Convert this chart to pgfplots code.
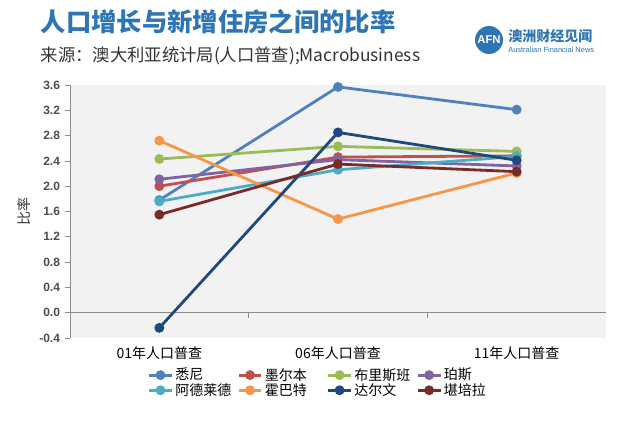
\documentclass[border=0pt]{standalone}
\usepackage{pgfplots}
\pgfplotsset{compat=1.18}
\usepackage{fontspec}
\setmainfont{Noto Sans CJK SC}
\newfontfamily\latin{Liberation Sans}

\definecolor{sydney}{HTML}{4F81BD}
\definecolor{melb}{HTML}{C0504D}
\definecolor{bris}{HTML}{9BBB59}
\definecolor{perth}{HTML}{8064A2}
\definecolor{adel}{HTML}{4BACC6}
\definecolor{hob}{HTML}{F79646}
\definecolor{darw}{HTML}{1F497D}
\definecolor{canb}{HTML}{772C2A}
\definecolor{titleblue}{HTML}{2E75B6}
\definecolor{bggray}{HTML}{F2F2F2}
\definecolor{axgray}{HTML}{8C8C8C}

\begin{document}
\begin{tikzpicture}[x=0.75pt,y=0.75pt]
\path[use as bounding box] (0,0) rectangle (640,426);
\coordinate (O) at (70,88);

% header
\node[anchor=west,text=titleblue,font=\fontsize{19}{21}\selectfont\bfseries] at (36,404) {人口增长与新增住房之间的比率};
\node[anchor=west,text=black!80,font=\fontsize{13}{15}\selectfont] at (36,370) {来源：澳大利亚统计局(人口普查);Macrobusiness};
\fill[titleblue] (489,386) circle (14);
\node[text=white,font=\fontsize{8.5}{9}\selectfont\bfseries\latin] at (489,386) {AFN};
\node[anchor=west,text=titleblue,font=\fontsize{10.5}{12}\selectfont\bfseries,inner sep=0pt] at (508,390) {澳洲财经见闻};
\node[anchor=west,text=titleblue,font=\fontsize{5.6}{6}\selectfont\latin,inner sep=0pt] at (508,376) {Australian Financial News};

\begin{axis}[
  at={(O)}, anchor=south west,
  scale only axis, width=402pt, height=189.75pt,
  xmin=-0.5, xmax=2.5, ymin=-0.4, ymax=3.6,
  axis background/.style={fill=bggray},
  axis x line=none,
  axis y line*=left,
  axis line style={axgray,line width=0.6pt},
  y axis line style={-},
  xtick={0,1,2},
  ytick={-0.4,0,0.4,0.8,1.2,1.6,2.0,2.4,2.8,3.2,3.6},
  /pgf/number format/fixed,
  /pgf/number format/fixed zerofill,
  /pgf/number format/precision=1,
  /pgf/number format/assume math mode=true,
  yticklabel style={font=\fontsize{9}{10}\selectfont\bfseries\latin,text=black!70},
  tick style={axgray,line width=0.6pt},
  tick align=outside, major tick length=4pt,
  ylabel={比率},
  ylabel style={font=\fontsize{10.5}{12}\selectfont,text=black!80},
  every axis plot/.append style={line width=2.1pt,mark=*,mark size=2.6pt},
  legend columns=4,
  legend style={at={(0.137,-0.1)},anchor=north west,draw=none,fill=none,
    font=\fontsize{10.5}{12}\selectfont,
    nodes={inner sep=1.5pt},
    /tikz/every even column/.append style={column sep=2pt,text width=43pt},
    row sep=-2pt},
  clip=false,
]
\draw[axgray,line width=0.6pt] (axis cs:-0.5,0) -- (axis cs:2.5,0);
\draw[axgray,line width=0.6pt] (axis cs:0.5,0) -- ([yshift=-4pt]axis cs:0.5,0);
\draw[axgray,line width=0.6pt] (axis cs:1.5,0) -- ([yshift=-4pt]axis cs:1.5,0);
\node[font=\fontsize{10.5}{12}\selectfont] at ([yshift=-11pt]axis cs:0,-0.4) {01年人口普查};
\node[font=\fontsize{10.5}{12}\selectfont] at ([yshift=-11pt]axis cs:1,-0.4) {06年人口普查};
\node[font=\fontsize{10.5}{12}\selectfont] at ([yshift=-11pt]axis cs:2,-0.4) {11年人口普查};

\addplot[color=sydney] coordinates {(0,1.78) (1,3.57) (2,3.21)};
\addlegendentry{悉尼}
\addplot[color=melb] coordinates {(0,2.00) (1,2.46) (2,2.48)};
\addlegendentry{墨尔本}
\addplot[color=bris] coordinates {(0,2.43) (1,2.63) (2,2.55)};
\addlegendentry{布里斯班}
\addplot[color=perth] coordinates {(0,2.11) (1,2.42) (2,2.32)};
\addlegendentry{珀斯}
\addplot[color=adel] coordinates {(0,1.76) (1,2.26) (2,2.47)};
\addlegendentry{阿德莱德}
\addplot[color=hob] coordinates {(0,2.72) (1,1.48) (2,2.21)};
\addlegendentry{霍巴特}
\addplot[color=darw] coordinates {(0,-0.24) (1,2.85) (2,2.41)};
\addlegendentry{达尔文}
\addplot[color=canb] coordinates {(0,1.55) (1,2.35) (2,2.23)};
\addlegendentry{堪培拉}
\end{axis}
\end{tikzpicture}
\end{document}
